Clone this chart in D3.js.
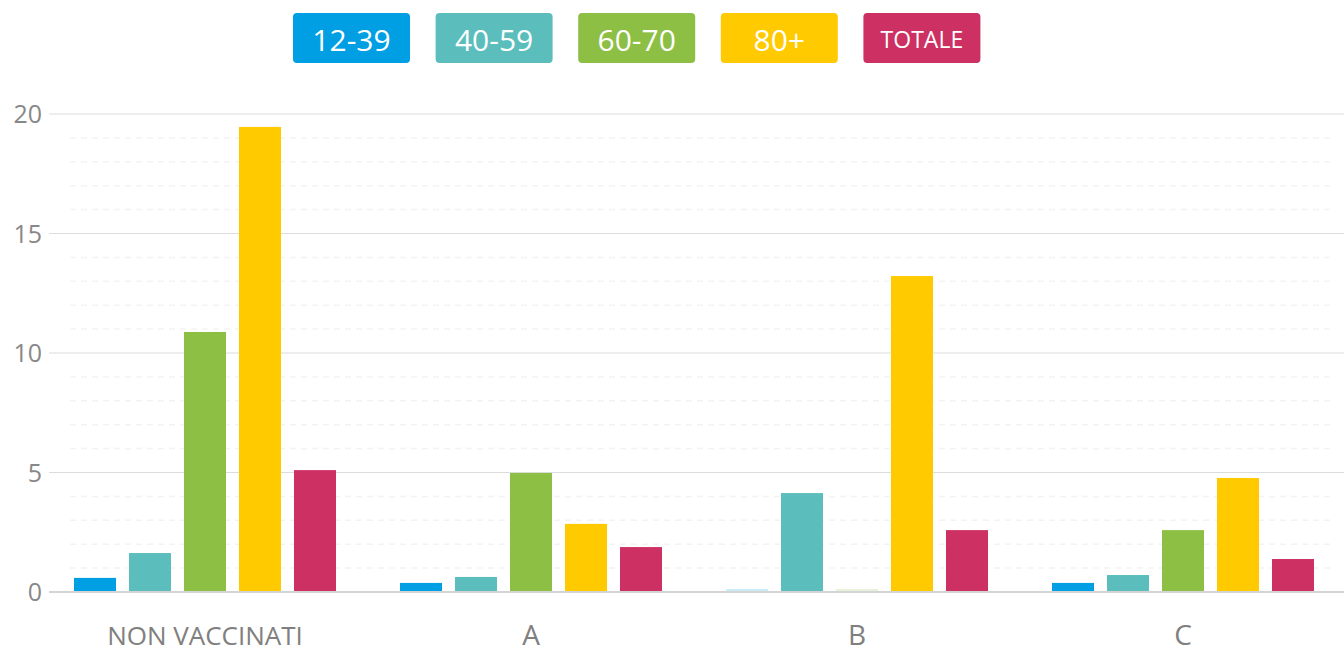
<!DOCTYPE html>
<html>
<head>
<meta charset="utf-8">
<script src="https://d3js.org/d3.v7.min.js"></script>
<style>
  body { margin: 0; background: #fff; }
  text { font-family: "Open Sans", "Noto Sans", sans-serif; }
</style>
</head>
<body>
<script>
// chart data
const groups = ["NON VACCINATI", "A", "B", "C"];
const series = ["12-39", "40-59", "60-70", "80+", "TOTALE"];
const colors = ["#009fe3", "#5bbebd", "#8dbf45", "#ffca00", "#cd3063"];
const v1239 = [0.59, 0.38, 0.05, 0.38];
const v4059 = [1.63, 0.63, 4.14, 0.71];
const v6070 = [10.88, 4.98, 0.05, 2.59];
const v80 = [19.46, 2.85, 13.22, 4.77];
const vTot = [5.10, 1.88, 2.59, 1.38];
const yTicks = [0, 5, 10, 15, 20];

const values = [v1239, v4059, v6070, v80, vTot];

let width = 1344, height = 648;

let svg = d3.select("body").append("svg")
    .attr("width", width)
    .attr("height", height);

let x0 = d3.scaleBand().domain(groups).range([42, 1346]);
let x1 = d3.scaleBand().domain(series).range([32, x0.bandwidth() - 32]).paddingInner(0.2364);
let y = d3.scaleLinear().domain([0, 20]).range([592, 114]);

// minor dashed grid
let minor = d3.range(1, 20).filter(d => d % 5 !== 0);
svg.append("g").selectAll("line")
    .data(minor)
    .join("line")
    .attr("x1", 70).attr("x2", 1335)
    .attr("y1", d => y(d)).attr("y2", d => y(d))
    .attr("stroke", "#f3f3f3")
    .attr("stroke-width", 1.5)
    .attr("stroke-dasharray", "6,5");

// major grid
svg.append("g").selectAll("line")
    .data(yTicks)
    .join("line")
    .attr("x1", 49).attr("x2", 1344)
    .attr("y1", d => y(d)).attr("y2", d => y(d))
    .attr("stroke", d => d === 0 ? "#d4d4d4" : "#dcdcdc")
    .attr("stroke-width", d => d === 0 ? 2 : 1);

// y labels
svg.append("g").selectAll("text")
    .data(yTicks)
    .join("text")
    .attr("x", 42)
    .attr("y", d => y(d) + 9)
    .attr("text-anchor", "end")
    .attr("font-size", "25px")
    .attr("fill", "#888")
    .text(d => d);

// bars
let g = svg.append("g").selectAll("g")
    .data(groups)
    .join("g")
    .attr("transform", d => `translate(${x0(d)},0)`);

g.selectAll("rect")
    .data((d, gi) => series.map((s, si) => ({ s: s, si: si, v: values[si][gi] })))
    .join("rect")
    .attr("x", d => x1(d.s))
    .attr("width", x1.bandwidth())
    .attr("y", d => Math.min(y(d.v), y(0) - 3))
    .attr("height", d => Math.max(2, y(0) - 1 - y(d.v)))
    .attr("fill", d => colors[d.si])
    .attr("opacity", d => d.v < 0.1 ? 0.2 : 1);

// category labels
svg.append("g").selectAll("text")
    .data(groups)
    .join("text")
    .attr("x", d => x0(d) + x0.bandwidth() / 2)
    .attr("y", 645)
    .attr("text-anchor", "middle")
    .attr("font-size", d => d.length > 1 ? "26px" : "28px")
    .attr("fill", "#808080")
    .text(d => d);

// legend buttons
let leg = svg.append("g").selectAll("g")
    .data(series)
    .join("g")
    .attr("transform", (d, i) => `translate(${293 + i * 142.6},13)`);

leg.append("rect")
    .attr("width", 117)
    .attr("height", 50)
    .attr("rx", 4)
    .attr("fill", (d, i) => colors[i]);

leg.append("text")
    .attr("x", 58.5)
    .attr("y", d => d === "TOTALE" ? 35 : 38)
    .attr("text-anchor", "middle")
    .attr("font-size", d => d === "TOTALE" ? "23px" : "30px")
    .attr("fill", "#fff")
    .text(d => d);
</script>
</body>
</html>
